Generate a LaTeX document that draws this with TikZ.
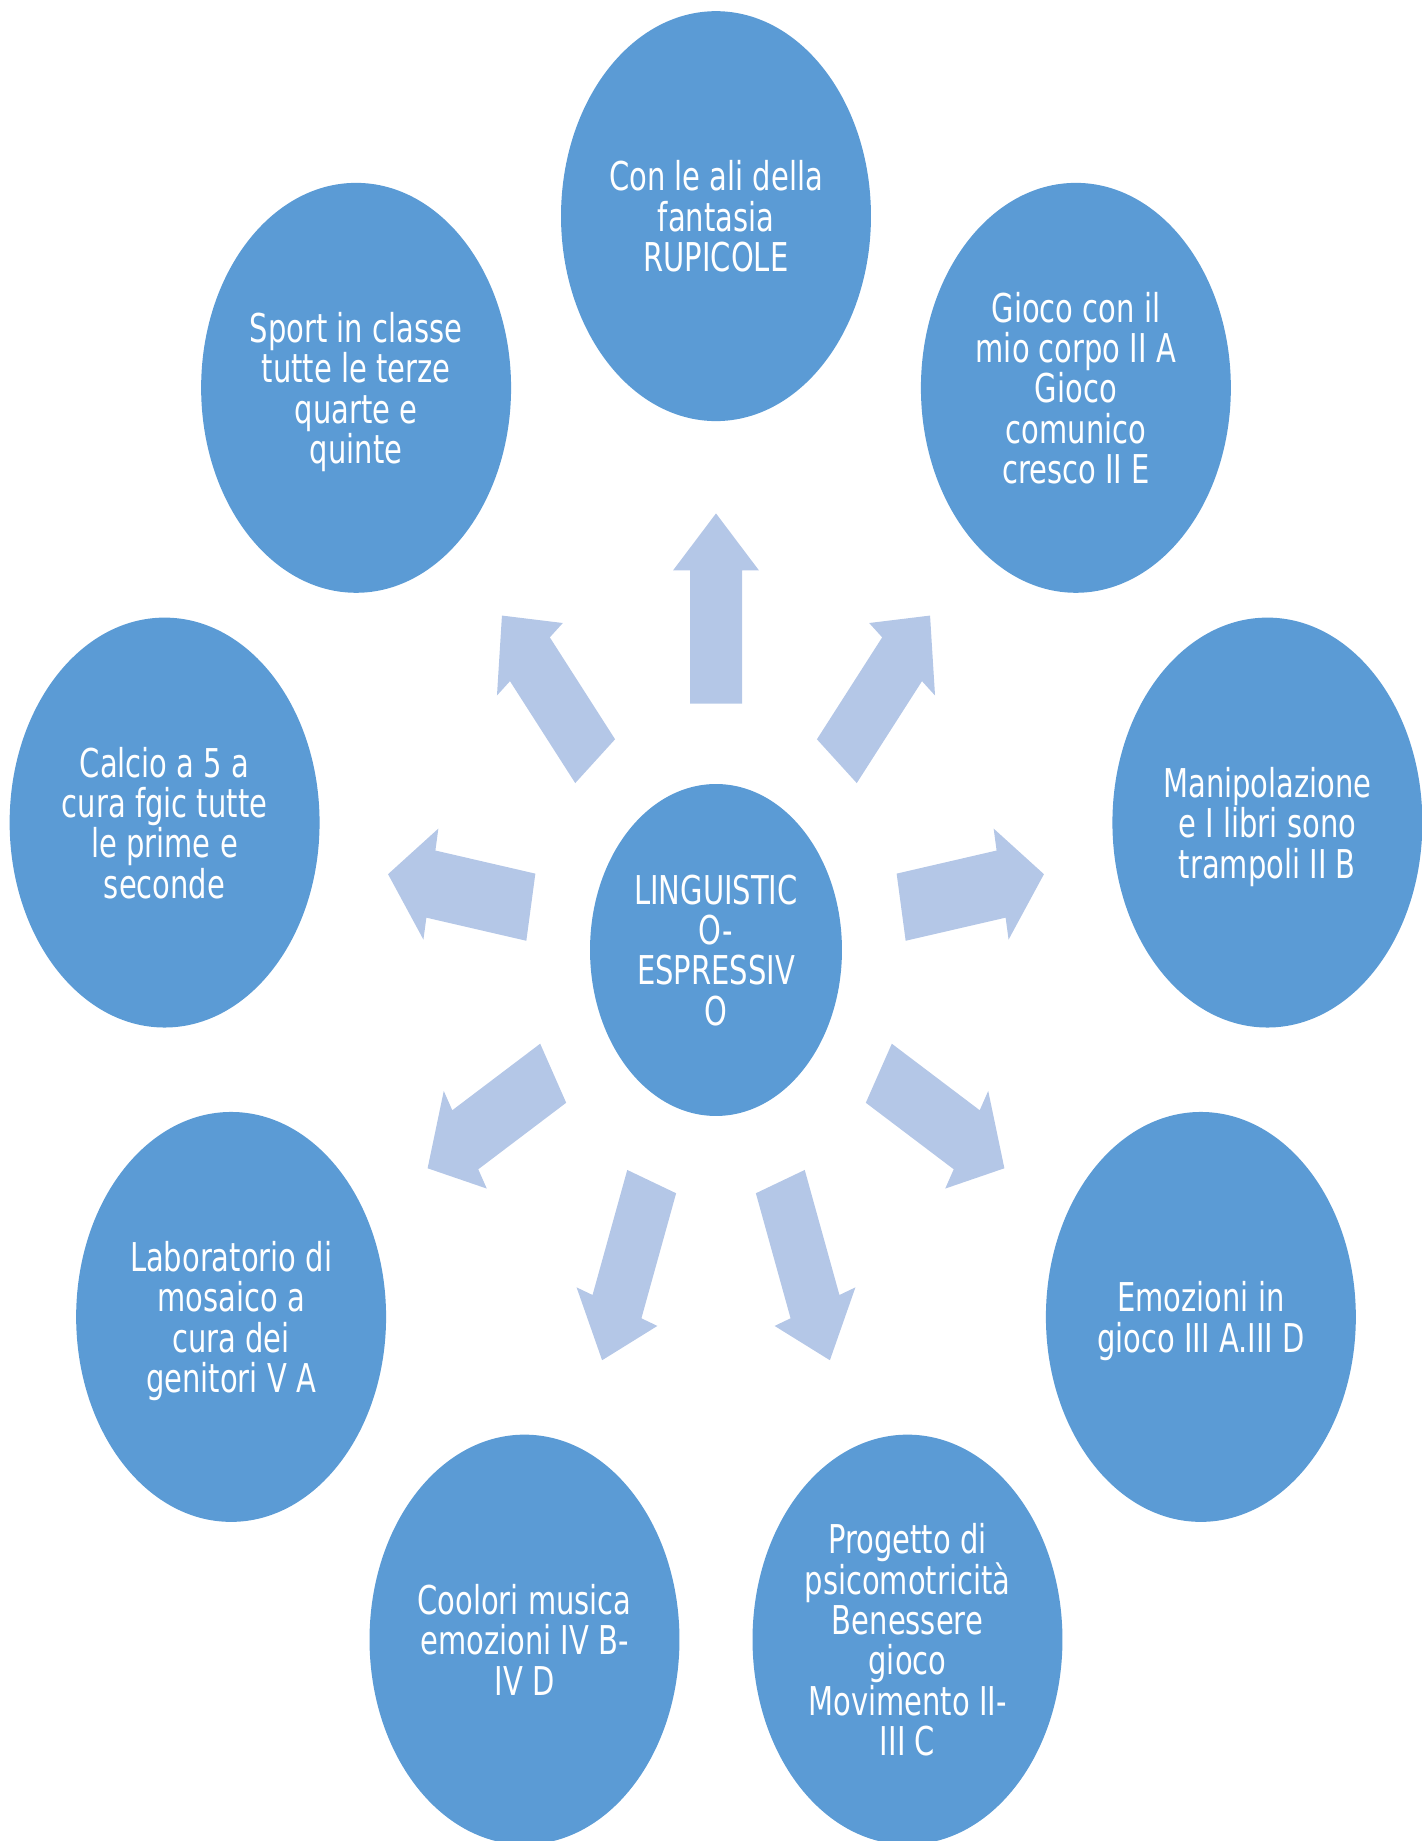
\documentclass[tikz,border=0pt]{standalone}
\usepackage{fontspec}
\setmainfont{DejaVu Sans}[FakeStretch=0.73]
\usepackage{tikz}
\usetikzlibrary{shapes.geometric}
\definecolor{bubbleblue}{HTML}{5B9BD5}
\definecolor{spokeblue}{HTML}{B4C7E7}

\begin{document}
\begin{tikzpicture}[
    x=0.02cm, y=0.02cm,
    bubble/.style = {ellipse, fill=bubbleblue, text=white, align=center, inner sep=0pt, outer sep=0pt, text depth=0pt,
                     minimum width=6.2cm, minimum height=8.2cm, font=\fontsize{22.6}{23}\selectfont},
    hub/.style = {bubble, minimum width=5.04cm, minimum height=6.64cm},
    spoke/.style = {fill=spokeblue}
  ]
  \useasboundingbox (-716,-891) rectangle (706,950);
  % block arrows, drawn unstretched and then stretched upwards
  \foreach \a in {90,50,10,-30,-70,-110,-150,170,130}
    \fill[spoke, yscale=1.311, rotate=\a]
      (188,-26) -- (289.5,-26) -- (289.5,-43) -- (333,0) -- (289.5,43) -- (289.5,26) -- (188,26) -- cycle;
  \node[hub] (hub) at (0,0) {LINGUISTIC\\O-\\ESPRESSIV\\O};
  \node[bubble] (ali) at (90:11.2cm and 14.68cm) {Con le ali della\\fantasia\\RUPICOLE};
  \node[bubble] (corpo) at (50:11.2cm and 14.68cm) {Gioco con il\\mio corpo II A\\Gioco\\comunico\\cresco II E};
  \node[bubble] (libri) at (10:11.2cm and 14.68cm) {Manipolazione\\e I libri sono\\trampoli II B};
  \node[bubble] (emozioni) at (-30:11.2cm and 14.68cm) {Emozioni in\\gioco III A.III D};
  \node[bubble] (psicomotricita) at (-70:11.2cm and 14.68cm) {Progetto di\\psicomotricità\\Benessere\\gioco\\Movimento II-\\III C};
  \node[bubble] (colori) at (-110:11.2cm and 14.68cm) {Coolori musica\\emozioni IV B-\\IV D};
  \node[bubble] (mosaico) at (-150:11.2cm and 14.68cm) {Laboratorio di\\mosaico a\\cura dei\\genitori V A};
  \node[bubble] (calcio) at (170:11.2cm and 14.68cm) {Calcio a 5 a\\cura fgic tutte\\le prime e\\seconde};
  \node[bubble] (sport) at (130:11.2cm and 14.68cm) {Sport in classe\\tutte le terze\\quarte e\\quinte};
\end{tikzpicture}
\end{document}
